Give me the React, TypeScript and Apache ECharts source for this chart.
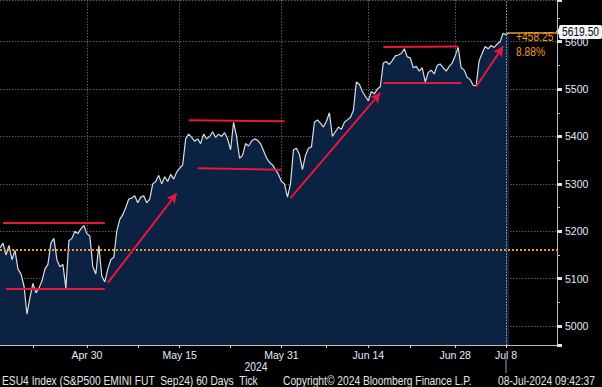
import React, { useEffect, useRef } from "react";
import * as echarts from "echarts";

// ---- data ----
const prices = [
  5165, 5175, 5150, 5170, 5140, 5160, 5120, 5110, 5085, 5025,
  5060, 5090, 5070, 5080, 5095, 5120, 5130, 5175, 5185, 5140,
  5125, 5130, 5080, 5180, 5185, 5200, 5195, 5205, 5212, 5195,
  5190, 5125, 5110, 5170, 5105, 5093, 5120, 5140, 5145, 5200,
  5225, 5235, 5250, 5268, 5270, 5275, 5260, 5272, 5275, 5260,
  5268, 5300, 5305, 5318, 5300, 5315, 5305, 5320, 5310, 5325,
  5333, 5340, 5395, 5405, 5398, 5390, 5395, 5385, 5405, 5395,
  5400, 5410, 5398, 5405, 5400, 5408, 5395, 5372, 5430, 5400,
  5354, 5360, 5385, 5380, 5390, 5395, 5392, 5385, 5370, 5355,
  5345, 5340, 5330, 5320, 5305, 5300, 5272, 5300, 5372, 5375,
  5362, 5330, 5360, 5375, 5378, 5430, 5435, 5428, 5420, 5432,
  5450, 5400, 5410, 5420, 5415, 5430, 5435, 5440, 5455, 5515,
  5510, 5495, 5485, 5475, 5495, 5490, 5500, 5505, 5555, 5558,
  5552, 5560, 5570, 5572, 5575, 5585, 5568, 5566, 5545, 5548,
  5538, 5545, 5515, 5535, 5540, 5532, 5550, 5553, 5545, 5538,
  5548, 5555, 5570, 5588, 5545, 5540, 5525, 5520, 5508, 5507,
  5560, 5575, 5590, 5585, 5592, 5588, 5595, 5600, 5618, 5615,
  5619.5,
];
const slotCount = 187;
const tickLabels = ["Apr 30", "May 15", "May 31", "Jun 14", "Jun 28", "Jul 8"];
const tickSlots = [29, 60, 94, 123, 152, 169];
const minorTickSlots = [11, 46, 77, 109, 137];
const yearLabel = "2024";
const baseline = 5161.25;
const lastPrice = 5619.5;
const lastPriceText = "5619.50";
const changeText = "+458.25";
const changePctText = "8.88%";
const footerLeft = "ESU4 Index (S&P500 EMINI FUT  Sep24) 60 Days  Tick";
const footerMid = "Copyright\u00A9 2024 Bloomberg Finance L.P.";
const footerRight = "08-Jul-2024 09:42:37";

// annotation segments: [slot, value] pairs
const flatLines = [
  [[1, 5217], [35, 5217]],
  [[2, 5078], [35, 5078]],
  [[63, 5434], [95, 5432]],
  [[66, 5333], [94, 5330]],
  [[128, 5589], [153, 5590]],
  [[128, 5514], [154, 5514]],
];
const arrows = [
  [[36, 5091], [59, 5280]],
  [[97, 5270], [127, 5492]],
  [[159, 5505], [168, 5590]],
];

const FONT = "'Liberation Sans', Arial, sans-serif";
const NARROW = 0.855;
const RED = "#e8173c";
const ORANGE = "#f29b22";
const LABEL = "#e4ecf6";

export default function App() {
  const ref = useRef<HTMLDivElement>(null);
  useEffect(() => {
    if (!ref.current) return;
    const chart = echarts.init(ref.current, null, { renderer: "svg" });
    const categories = Array.from({ length: slotCount }, (_, i) => String(i));
    const tickSet = new Set([...tickSlots, ...minorTickSlots]);

    const markData: any[] = [];
    flatLines.forEach((seg) => {
      markData.push([
        { coord: seg[0], symbol: "none" },
        { coord: seg[1], symbol: "none" },
      ]);
    });
    arrows.forEach((seg) => {
      markData.push([
        { coord: seg[0], symbol: "none" },
        { coord: seg[1], symbol: "arrow", symbolSize: [8, 10] },
      ]);
    });

    const narrowText = (text: string, x: number, y: number, fill: string, align = "left") => ({
      type: "text",
      x,
      y,
      scaleX: NARROW,
      style: { text, fill, font: `12px ${FONT}`, textAlign: align, textVerticalAlign: "middle" },
    });

    const option: any = {
      animation: false,
      backgroundColor: "#000",
      grid: { left: 0, right: 45, top: -1, bottom: 42, containLabel: false },
      xAxis: {
        type: "category",
        data: categories,
        boundaryGap: false,
        axisLine: { show: true, lineStyle: { color: "#bdbdbd", width: 1 } },
        axisTick: {
          show: true,
          interval: (i: number) => tickSet.has(i),
          length: 3,
          lineStyle: { color: "#d8d8d8" },
        },
        axisLabel: {
          interval: (i: number) => tickSlots.includes(i),
          formatter: (_v: string, i: number) => {
            const k = tickSlots.indexOf(i);
            return k >= 0 ? tickLabels[k] : "";
          },
          color: LABEL,
          fontFamily: FONT,
          fontSize: 10.5,
          margin: 4,
        },
        splitLine: {
          show: true,
          interval: (i: number) => tickSlots.includes(i) && i !== tickSlots[tickSlots.length - 1],
          lineStyle: { color: "#5e5e5e", type: [1.5, 1.5], width: 1 },
        },
      },
      yAxis: {
        type: "value",
        position: "right",
        min: 4960,
        max: 5688,
        minInterval: 100,
        maxInterval: 100,
        scale: true,
        axisLine: { show: true, lineStyle: { color: "#bdbdbd", width: 1 } },
        axisTick: { show: true, length: 5, lineStyle: { color: "#e0e0e0", width: 3 } },
        minorTick: { show: true, splitNumber: 2, length: 3, lineStyle: { color: "#bdbdbd" } },
        axisLabel: {
          showMinLabel: false,
          showMaxLabel: false,
          formatter: (v: number) => String(v),
          color: LABEL,
          fontFamily: FONT,
          fontSize: 10.5,
          margin: 8,
        },
        splitLine: { show: true, lineStyle: { color: "#5e5e5e", type: [1.5, 1.5], width: 1 } },
      },
      series: [
        {
          type: "line",
          data: prices,
          showSymbol: false,
          symbol: "none",
          lineStyle: { color: "#d9dde3", width: 1.2 },
          areaStyle: { color: "#0b2243", opacity: 1 },
          z: 2,
          markLine: {
            silent: true,
            symbol: "none",
            label: { show: false },
            lineStyle: { color: RED, width: 2, type: "solid" },
            data: [
              {
                yAxis: baseline,
                lineStyle: { color: ORANGE, width: 2, type: [2, 2] },
              },
              {
                xAxis: tickSlots[tickSlots.length - 1],
                lineStyle: { color: "#a8a8a8", width: 1, type: [1.5, 1.5] },
              },
              [
                { coord: [prices.length - 1, lastPrice], symbol: "none", lineStyle: { color: ORANGE, width: 1.5, type: "solid" } },
                { coord: [slotCount - 1, lastPrice], symbol: "none" },
              ],
              ...markData,
            ],
          },
        },
      ],
      graphic: [
        narrowText(yearLabel, 256, 367, LABEL, "center"),
        {
          type: "line",
          shape: { x1: 506, y1: 359, x2: 506, y2: 373 },
          style: { stroke: "#a0a0a0", lineWidth: 1 },
        },
        narrowText(footerLeft, 2, 381, "#e6e6e6"),
        narrowText(footerMid, 283, 381, "#e6e6e6"),
        narrowText(footerRight, 498, 381, "#e6e6e6"),
        {
          type: "polygon",
          shape: { points: [[556, 31.5], [560, 27], [560, 36]] },
          style: { fill: "#f4f6f8" },
        },
        {
          type: "rect",
          shape: { x: 559, y: 25, width: 43, height: 14, r: 2 },
          style: { fill: "#f4f6f8" },
        },
        narrowText(lastPriceText, 562, 32, "#0a0a0a"),
        narrowText(changeText, 516, 37, ORANGE),
        narrowText(changePctText, 516, 52, ORANGE),
      ],
    };
    chart.setOption(option);
    return () => chart.dispose();
  }, []);
  return (
    <div
      ref={ref}
      style={{ position: "fixed", left: 0, top: 0, width: 602, height: 387, background: "#000" }}
    />
  );
}
